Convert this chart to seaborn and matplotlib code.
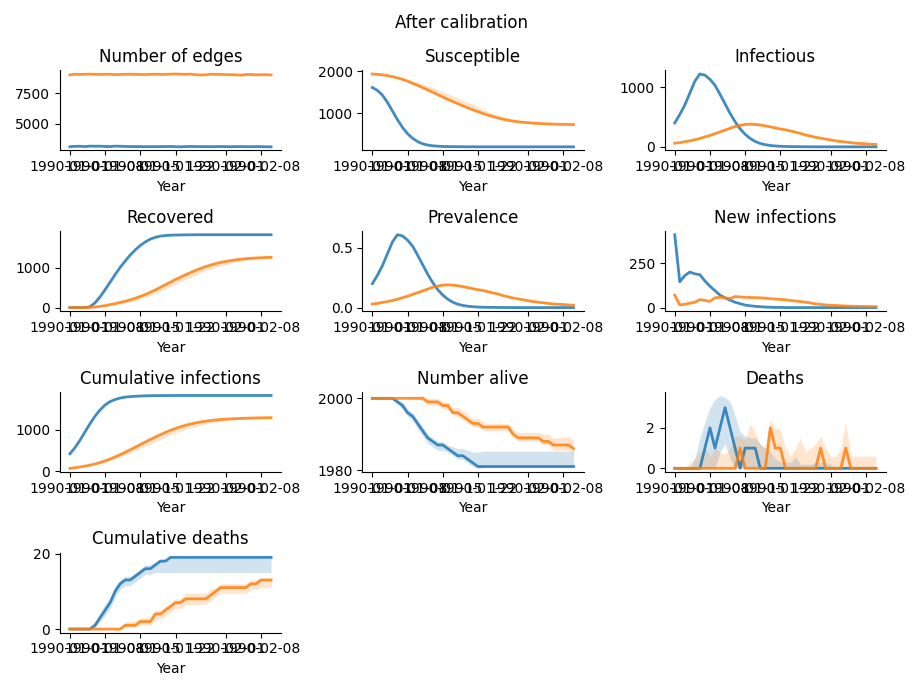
# Dependencias
import matplotlib
matplotlib.use('Agg')
import matplotlib.pyplot as plt
import seaborn as sns
import pandas as pd
import numpy as np

# Eje temporal: un punto por día
FECHA_INICIO = '1990-01-01'
N_DIAS = 41

SERIES = ['Before', 'After']
COLORES = ['#1f77b4', '#ff7f0e']

TITULOS = ['Number of edges', 'Susceptible', 'Infectious',
           'Recovered', 'Prevalence', 'New infections',
           'Cumulative infections', 'Number alive', 'Deaths',
           'Cumulative deaths']

# Valores (azul = Before, naranja = After)
edges_before = [3080, 3110, 3120, 3090, 3130, 3120, 3125, 3100, 3090, 3130,
                3120, 3100, 3095, 3090, 3090, 3085, 3080, 3085, 3090, 3095,
                3100, 3080, 3070, 3090, 3100, 3095, 3085, 3090, 3080, 3090,
                3095, 3085, 3080, 3090, 3095, 3085, 3080, 3090, 3085, 3075,
                3070]
edges_after = [9040, 9090, 9070, 9080, 9100, 9080, 9070, 9090, 9080, 9060,
               9070, 9085, 9090, 9075, 9070, 9060, 9080, 9090, 9070, 9080,
               9100, 9110, 9090, 9080, 9100, 9050, 9030, 9040, 9090, 9080,
               9075, 9060, 9050, 9040, 9010, 9060, 9070, 9040, 9045, 9050,
               9030]

sus_before = [1614, 1545, 1430, 1260, 1050, 840, 655, 505, 395, 315,
              262, 232, 214, 204, 198, 195, 193, 192, 191, 190,
              190, 189, 189, 189, 189, 189, 189, 189, 189, 189,
              189, 189, 189, 189, 189, 189, 189, 189, 189, 189,
              189]
sus_after = [1937, 1930, 1918, 1900, 1875, 1845, 1808, 1764, 1716, 1665,
             1610, 1556, 1500, 1443, 1385, 1330, 1277, 1225, 1173, 1125,
             1078, 1035, 990, 950, 915, 880, 852, 828, 806, 790,
             778, 768, 758, 750, 744, 739, 735, 731, 728, 726,
             724]
sus_after_up = [2, 4, 6, 10, 16, 24, 34, 46, 60, 75,
                90, 103, 115, 125, 132, 136, 138, 137, 134, 128,
                120, 111, 101, 91, 81, 71, 62, 54, 46, 39,
                33, 27, 22, 18, 14, 11, 9, 7, 5, 4,
                3]

inf_before = [400, 540, 700, 900, 1100, 1220, 1200, 1130, 1030, 880,
              720, 560, 420, 300, 210, 140, 90, 56, 36, 22,
              14, 9, 6, 4, 3, 2, 1, 1, 0, 0,
              0, 0, 0, 0, 0, 0, 0, 0, 0, 0,
              0]
inf_after = [60, 70, 86, 100, 120, 140, 166, 190, 220, 250,
             280, 310, 340, 360, 376, 380, 376, 366, 350, 336,
             316, 300, 286, 266, 246, 226, 200, 180, 160, 146,
             130, 116, 100, 90, 80, 70, 60, 56, 50, 44,
             40]
inf_after_err = [2, 2, 3, 4, 5, 6, 8, 10, 12, 14,
                 15, 16, 16, 16, 16, 15, 15, 14, 14, 13,
                 13, 12, 12, 11, 11, 10, 10, 9, 9, 8,
                 8, 7, 7, 6, 6, 5, 5, 4, 4, 3,
                 3]

rec_before = [0, 0, 0, 0, 20, 120, 270, 450, 640, 830,
              1010, 1170, 1320, 1450, 1560, 1650, 1720, 1765, 1795, 1810,
              1818, 1822, 1825, 1827, 1828, 1829, 1830, 1830, 1830, 1830,
              1830, 1830, 1830, 1830, 1830, 1830, 1830, 1830, 1830, 1830,
              1830]
rec_after = [0, 0, 0, 0, 5, 15, 30, 50, 75, 100,
             130, 160, 195, 235, 280, 330, 385, 445, 510, 575,
             640, 705, 765, 825, 880, 935, 985, 1030, 1070, 1105,
             1135, 1160, 1180, 1200, 1215, 1228, 1238, 1246, 1253, 1258,
             1262]
rec_after_down = [0, 0, 0, 0, 3, 6, 10, 15, 20, 26,
                  33, 40, 48, 56, 64, 72, 80, 88, 96, 104,
                  110, 115, 118, 120, 120, 118, 114, 108, 100, 92,
                  84, 76, 68, 60, 52, 45, 38, 32, 26, 20,
                  15]
rec_after_up = [0, 0, 0, 0, 1, 2, 3, 4, 5, 6,
                7, 8, 9, 10, 10, 10, 10, 10, 10, 10,
                10, 10, 10, 10, 10, 9, 9, 8, 8, 7,
                7, 6, 6, 5, 5, 4, 4, 3, 3, 2,
                2]

prev_before = [0.20, 0.27, 0.35, 0.45, 0.55, 0.61, 0.60, 0.565, 0.515, 0.44,
               0.36, 0.28, 0.21, 0.15, 0.105, 0.07, 0.045, 0.028, 0.018, 0.011,
               0.007, 0.0045, 0.003, 0.002, 0.0015, 0.001, 0.0005, 0.0005, 0, 0,
               0, 0, 0, 0, 0, 0, 0, 0, 0, 0,
               0]
prev_after = [0.030, 0.035, 0.043, 0.050, 0.060, 0.070, 0.083, 0.095, 0.110, 0.125,
              0.140, 0.155, 0.170, 0.180, 0.188, 0.190, 0.188, 0.183, 0.175, 0.168,
              0.158, 0.150, 0.143, 0.133, 0.123, 0.113, 0.100, 0.090, 0.080, 0.073,
              0.065, 0.058, 0.050, 0.045, 0.040, 0.035, 0.030, 0.028, 0.025, 0.022,
              0.020]
prev_after_err = [0.001, 0.001, 0.002, 0.002, 0.003, 0.003, 0.004, 0.005, 0.006, 0.007,
                  0.008, 0.008, 0.008, 0.008, 0.008, 0.008, 0.008, 0.007, 0.007, 0.007,
                  0.006, 0.006, 0.006, 0.006, 0.005, 0.005, 0.005, 0.005, 0.004, 0.004,
                  0.004, 0.004, 0.003, 0.003, 0.003, 0.003, 0.002, 0.002, 0.002, 0.002,
                  0.002]

new_before = [410, 145, 180, 200, 190, 185, 150, 120, 95, 70,
              55, 42, 30, 22, 14, 10, 7, 5, 3, 2,
              1, 1, 0, 0, 0, 0, 0, 0, 0, 0,
              0, 0, 0, 0, 0, 0, 0, 0, 0, 0,
              0]
new_after = [70, 15, 18, 25, 30, 45, 40, 35, 55, 58,
             55, 50, 62, 60, 58, 57, 56, 55, 53, 50,
             48, 46, 44, 40, 37, 34, 30, 26, 21, 18,
             15, 13, 12, 10, 9, 8, 7, 6, 6, 5,
             5]

cuminf_before = [425, 570, 750, 950, 1150, 1330, 1480, 1600, 1680, 1730,
                 1765, 1788, 1800, 1808, 1814, 1818, 1821, 1823, 1824, 1825,
                 1826, 1826, 1827, 1827, 1827, 1827, 1827, 1827, 1827, 1827,
                 1827, 1827, 1827, 1827, 1827, 1827, 1827, 1827, 1827, 1827,
                 1827]
cuminf_after = [75, 90, 107, 128, 152, 180, 215, 255, 300, 350,
                405, 462, 522, 585, 648, 710, 770, 828, 885, 940,
                990, 1035, 1075, 1110, 1140, 1168, 1190, 1210, 1225, 1238,
                1250, 1258, 1265, 1271, 1276, 1280, 1284, 1287, 1290, 1292,
                1294]
cuminf_after_down = [0, 2, 4, 7, 11, 16, 22, 30, 38, 48,
                     58, 68, 78, 88, 96, 103, 108, 112, 114, 115,
                     114, 111, 106, 100, 92, 84, 76, 68, 60, 52,
                     45, 38, 32, 27, 22, 18, 15, 12, 10, 8,
                     6]
cuminf_after_up = [0, 0, 1, 1, 2, 2, 3, 3, 4, 4,
                   5, 5, 6, 6, 6, 6, 6, 6, 6, 6,
                   6, 6, 6, 5, 5, 5, 5, 4, 4, 4,
                   4, 3, 3, 3, 3, 2, 2, 2, 2, 2,
                   2]

alive_before = [2000, 2000, 2000, 2000, 2000, 1999, 1998, 1996, 1995, 1993,
                1991, 1989, 1988, 1987, 1987, 1986, 1985, 1984, 1984, 1983,
                1982, 1981, 1981, 1981, 1981, 1981, 1981, 1981, 1981, 1981,
                1981, 1981, 1981, 1981, 1981, 1981, 1981, 1981, 1981, 1981,
                1981]
alive_before_up = [0, 0, 0, 0, 0.3, 0.8, 1, 1, 1, 1,
                   1, 1, 1, 1, 1, 1, 1.5, 2, 2, 2.5,
                   3, 4, 4.3, 4.3, 4.3, 4.3, 4.3, 4.3, 4.3, 4.3,
                   4.3, 4.3, 4.3, 4.3, 4.3, 4.3, 4.3, 4.3, 4.3, 4.3,
                   4.3]
alive_before_down = [0, 0, 0, 0, 0, 0.5, 1, 1, 1, 1.5,
                     1.5, 1.5, 1.5, 1.5, 1.5, 1, 1, 1, 1, 1,
                     1, 0.5, 0.3, 0, 0, 0, 0, 0, 0, 0,
                     0, 0, 0, 0, 0, 0, 0, 0, 0, 0,
                     0]
alive_after = [2000, 2000, 2000, 2000, 2000, 2000, 2000, 2000, 2000, 2000,
               2000, 1999, 1999, 1999, 1998, 1998, 1996, 1996, 1995, 1994,
               1993, 1993, 1992, 1992, 1992, 1992, 1992, 1992, 1990, 1989,
               1989, 1989, 1989, 1989, 1988, 1988, 1987, 1987, 1987, 1987,
               1986]
alive_after_up = [0, 0, 0, 0, 0, 0, 0, 0, 0.3, 0.5,
                  0.8, 1, 1, 1, 1, 1, 1.5, 1.5, 1.5, 1.5,
                  1.5, 1.5, 1.5, 1, 1, 1, 1, 1, 1.5, 1.5,
                  1.5, 1.5, 1.5, 1.5, 2, 2, 2, 2, 2, 2.5,
                  2.5]
alive_after_down = [0, 0, 0, 0, 0, 0, 0, 0, 0, 0.3,
                    0.5, 0.8, 1, 1, 1, 1, 1, 1, 1, 1,
                    1, 1, 1, 1, 1, 1, 1, 1, 1, 1,
                    1, 1, 1, 1, 1, 1, 1.5, 1.5, 1.5, 1.5,
                    1.5]

deaths_before = [0, 0, 0, 0, 0, 0, 1, 2, 1, 2,
                 3, 2, 1, 0, 1, 1, 1, 0, 0, 0,
                 0, 0, 0, 0, 0, 0, 0, 0, 0, 0,
                 0, 0, 0, 0, 0, 0, 0, 0, 0, 0,
                 0]
deaths_before_up = [0, 0, 0, 0, 0.5, 1.5, 1.3, 1.0, 2.4, 1.6,
                    0.5, 1.3, 1.6, 1.8, 0.6, 0.5, 0.5, 1.2, 1.0, 0.8,
                    0.5, 0.3, 0.3, 0.3, 0.6, 0.2, 0.2, 0.2, 0.3, 0.3,
                    0.3, 0.2, 0, 0, 0, 0, 0, 0, 0, 0,
                    0]
deaths_before_down = [0, 0, 0, 0, 0, 0, 1, 2, 1, 1.2,
                      1.8, 1.5, 1, 0, 1, 1, 1, 0, 0, 0,
                      0, 0, 0, 0, 0, 0, 0, 0, 0, 0,
                      0, 0, 0, 0, 0, 0, 0, 0, 0, 0,
                      0]
deaths_after = [0, 0, 0, 0, 0, 0, 0, 0, 0, 0,
                0, 0, 0, 1, 0, 0, 0, 0, 0, 2,
                1, 1, 0, 0, 0, 0, 0, 0, 0, 1,
                0, 0, 0, 0, 1, 0, 0, 0, 0, 0,
                0]
deaths_after_up = [0, 0, 0, 0.3, 0.5, 0.8, 1.0, 0.6, 1.0, 0.8,
                   0.7, 1.0, 1.6, 0.6, 1.4, 2.2, 1.8, 1.2, 1.0, 0.4,
                   1.0, 0.9, 1.0, 0.6, 1.0, 1.5, 0.8, 1.0, 1.2, 0.6,
                   1.0, 0.6, 0.6, 1.0, 1.3, 0.6, 0.6, 0.6, 0.6, 0.6,
                   0.6]

cumd_before = [0, 0, 0, 0, 0, 1, 3, 5, 7, 10,
               12, 13, 13, 14, 15, 16, 16, 17, 18, 18,
               19, 19, 19, 19, 19, 19, 19, 19, 19, 19,
               19, 19, 19, 19, 19, 19, 19, 19, 19, 19,
               19]
cumd_before_up = [0, 0, 0, 0, 0.5, 1, 1.5, 1.5, 1.5, 1.5,
                  1, 1, 1, 1, 1, 1, 1, 0.8, 0.5, 0.5,
                  0.3, 0, 0, 0, 0, 0, 0, 0, 0, 0,
                  0, 0, 0, 0, 0, 0, 0, 0, 0, 0,
                  0]
cumd_before_down = [0, 0, 0, 0, 0, 0.5, 1, 1.5, 1.5, 1.5,
                    1.5, 1.5, 1.5, 1.5, 1.5, 1.5, 1.5, 2, 3, 3,
                    4, 4, 4, 4, 4, 4, 4, 4, 4, 4,
                    4, 4, 4, 4, 4, 4, 4, 4, 4, 4,
                    4]
cumd_after = [0, 0, 0, 0, 0, 0, 0, 0, 0, 0,
              0, 1, 1, 1, 2, 2, 2, 4, 4, 5,
              6, 7, 7, 8, 8, 8, 8, 8, 9, 10,
              11, 11, 11, 11, 11, 11, 12, 12, 13, 13,
              13]
cumd_after_up = [0, 0, 0, 0, 0, 0, 0, 0, 0, 0,
                 0.5, 1, 1, 1, 1, 1, 1.5, 1, 1, 1,
                 1, 1, 1, 1.5, 1.5, 1.5, 1.5, 1.5, 1.5, 1,
                 1, 1, 1, 1, 1, 1, 1, 1, 0.5, 0.5,
                 0.5]
cumd_after_down = [0, 0, 0, 0, 0, 0, 0, 0, 0, 0,
                   0, 0.5, 0.5, 0.5, 1, 1, 1, 1.5, 1.5, 1.5,
                   1.5, 1.5, 1.5, 1.5, 1.5, 1.5, 1.5, 1.5, 1.5, 1.5,
                   1.5, 1.5, 1.5, 1.5, 1.5, 1.5, 1.5, 1.5, 2, 2,
                   2]


def preparar_paneles() -> list:
    """
    Agrupa las series de cada panel: (antes, después) y sus bandas (abajo, arriba).
    """
    return [
        ((edges_before, edges_after), (None, None)),
        ((sus_before, sus_after), (None, (None, sus_after_up))),
        ((inf_before, inf_after), (None, (inf_after_err, inf_after_err))),
        ((rec_before, rec_after), (None, (rec_after_down, rec_after_up))),
        ((prev_before, prev_after), (None, (prev_after_err, prev_after_err))),
        ((new_before, new_after), (None, None)),
        ((cuminf_before, cuminf_after), (None, (cuminf_after_down, cuminf_after_up))),
        ((alive_before, alive_after), ((alive_before_down, alive_before_up),
                                       (alive_after_down, alive_after_up))),
        ((deaths_before, deaths_after), ((deaths_before_down, deaths_before_up),
                                         (deaths_after, deaths_after_up))),
        ((cumd_before, cumd_after), ((cumd_before_down, cumd_before_up),
                                     (cumd_after_down, cumd_after_up))),
    ]


def dibujar(path_png: str = 'out.png') -> None:
    """
    Genera la cuadrícula de paneles y guarda la figura en PNG.

    :param path_png: Fichero de salida.
    """
    fechas = pd.date_range(FECHA_INICIO, periods=N_DIAS, freq='D')

    fig, ax = plt.subplots(4, 3, figsize=(9.22, 6.91))
    fig.suptitle('After calibration')
    ejes = ax.flatten()

    for i, (titulo, (valores, bandas)) in enumerate(zip(TITULOS, preparar_paneles())):
        a = ejes[i]
        datos = pd.concat([
            pd.DataFrame({'Year': fechas, 'valor': np.asarray(v, dtype=float), 'serie': s})
            for s, v in zip(SERIES, valores)
        ], ignore_index=True)

        # Bandas de incertidumbre
        for v, banda, color in zip(valores, bandas, COLORES):
            if banda is None:
                continue
            v = np.asarray(v, dtype=float)
            abajo = np.zeros(N_DIAS) if banda[0] is None else np.asarray(banda[0], dtype=float)
            arriba = np.asarray(banda[1], dtype=float)
            a.fill_between(fechas, v - abajo, v + arriba, color=color, alpha=0.2, linewidth=0)

        sns.lineplot(data=datos, x='Year', y='valor', hue='serie', palette=COLORES,
                     linewidth=2, alpha=0.85, legend=False, ax=a)
        a.set_title(titulo)
        a.set_ylabel('')
        sns.despine(ax=a)

    # Paneles vacíos
    for a in ejes[len(TITULOS):]:
        a.axis('off')

    fig.tight_layout()
    fig.savefig(path_png, dpi=100)


if __name__ == '__main__':
    dibujar()
